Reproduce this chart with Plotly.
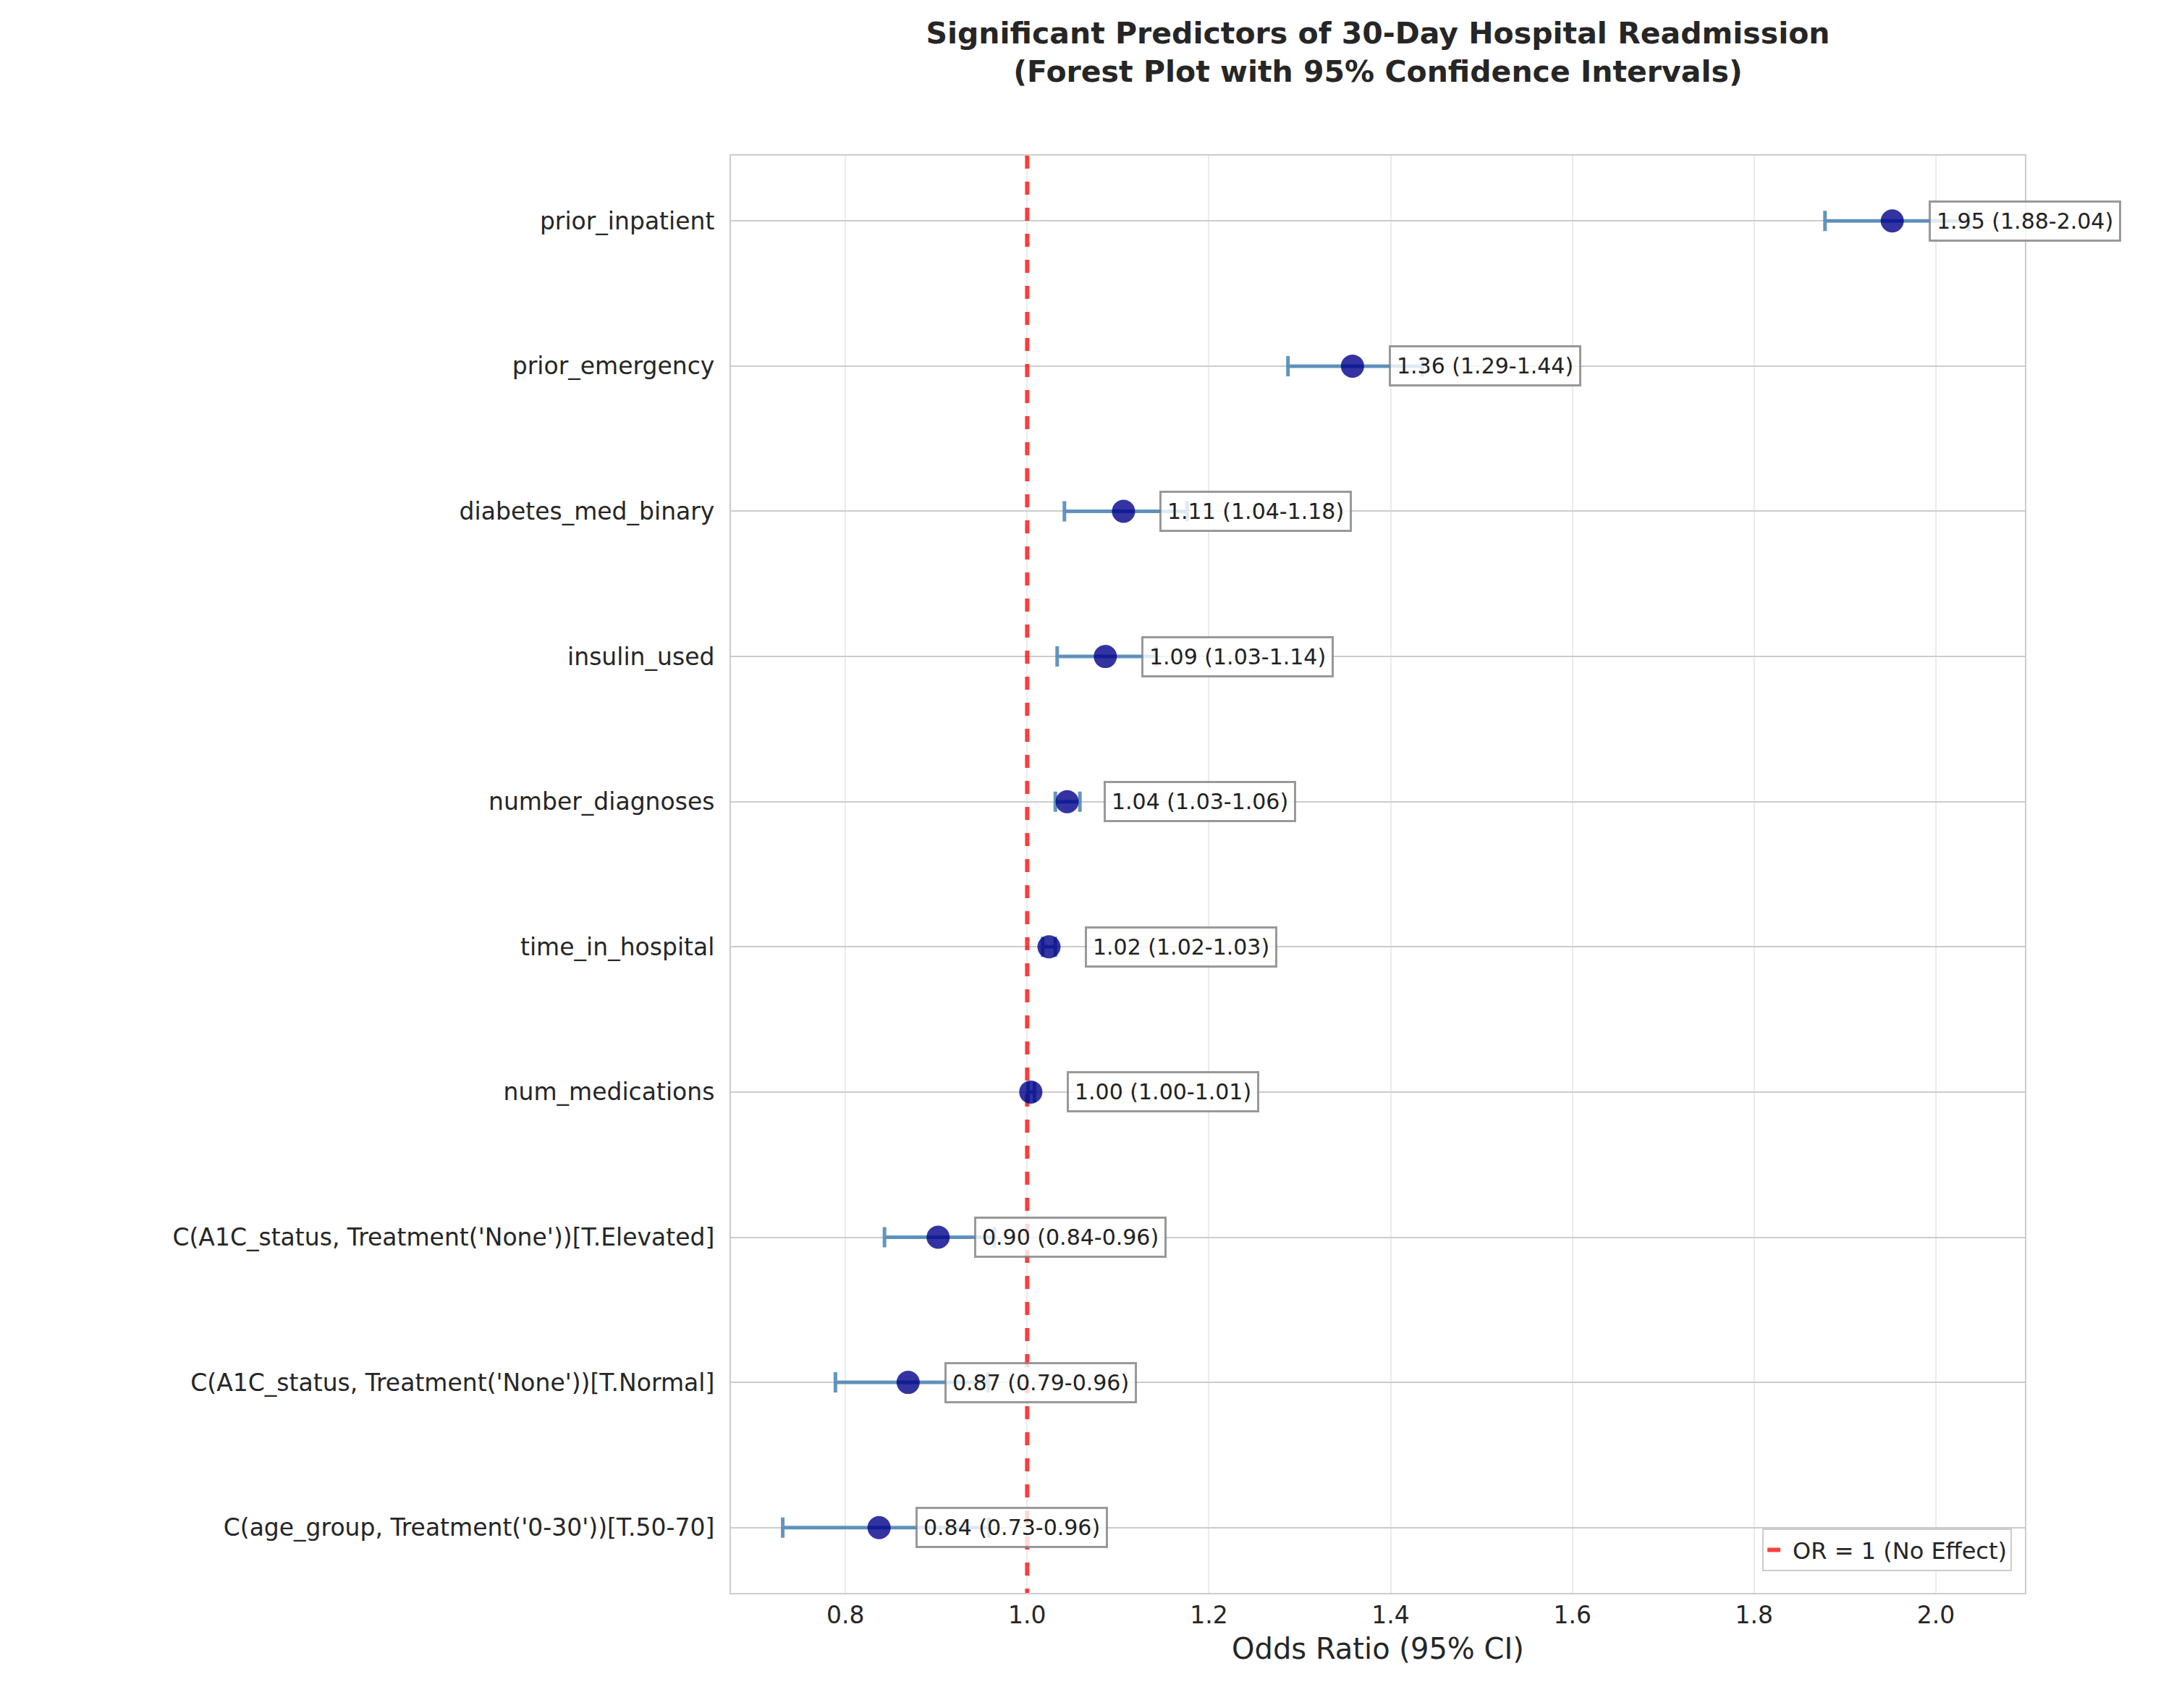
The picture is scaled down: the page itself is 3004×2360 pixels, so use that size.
import plotly.graph_objects as go

predictors = [
    "prior_inpatient",
    "prior_emergency",
    "diabetes_med_binary",
    "insulin_used",
    "number_diagnoses",
    "time_in_hospital",
    "num_medications",
    "C(A1C_status, Treatment('None'))[T.Elevated]",
    "C(A1C_status, Treatment('None'))[T.Normal]",
    "C(age_group, Treatment('0-30'))[T.50-70]",
]
odds_ratio = [1.952, 1.358, 1.106, 1.086, 1.044, 1.024, 1.004, 0.902, 0.869, 0.837]
ci_lower = [1.878, 1.287, 1.041, 1.033, 1.031, 1.017, 1.001, 0.843, 0.789, 0.731]
ci_upper = [2.036, 1.435, 1.176, 1.142, 1.058, 1.031, 1.008, 0.964, 0.957, 0.958]

pos = list(range(len(predictors)))
labels = [f"{o:.2f} ({l:.2f}-{u:.2f})" for o, l, u in zip(odds_ratio, ci_lower, ci_upper)]
font_family = "DejaVu Sans"

fig = go.Figure()

# vertical reference line (also feeds the legend)
fig.add_trace(
    go.Scatter(
        x=[1, 1],
        y=[-0.45, len(predictors) - 0.55],
        mode="lines",
        line=dict(color="rgba(255,0,0,0.75)", width=6, dash="dash"),
        name="OR = 1 (No Effect)",
        showlegend=True,
    )
)

fig.add_trace(
    go.Scatter(
        x=odds_ratio,
        y=pos,
        mode="markers",
        marker=dict(color="rgba(0,0,139,0.8)", size=32, line_width=0),
        error_x=dict(
            type="data",
            symmetric=False,
            array=[u - o for u, o in zip(ci_upper, odds_ratio)],
            arrayminus=[o - l for o, l in zip(odds_ratio, ci_lower)],
            color="rgba(70,130,180,0.85)",
            thickness=5,
            width=14,
        ),
        showlegend=False,
    )
)

for o, p, t in zip(odds_ratio, pos, labels):
    fig.add_annotation(
        x=o,
        y=p,
        text=t,
        xanchor="left",
        xshift=50,
        showarrow=False,
        font=dict(family=font_family, size=30, color="#222"),
        bgcolor="rgba(255,255,255,0.8)",
        bordercolor="rgba(128,128,128,0.8)",
        borderwidth=3,
        borderpad=8,
    )

fig.update_layout(
    width=3004,
    height=2360,
    paper_bgcolor="white",
    plot_bgcolor="white",
    font=dict(family=font_family, size=33, color="#262626"),
    margin=dict(l=1002, r=214, t=207, b=167),
    title=dict(
        text="<b>Significant Predictors of 30-Day Hospital Readmission<br>(Forest Plot with 95% Confidence Intervals)</b>",
        x=0.5,
        xref="paper",
        xanchor="center",
        y=0.978,
        yanchor="top",
        font=dict(size=41, color="#262626"),
    ),
    legend=dict(
        x=0.99,
        y=0.015,
        xanchor="right",
        yanchor="bottom",
        bgcolor="white",
        bordercolor="#cccccc",
        borderwidth=2,
        font=dict(size=32),
    ),
)

fig.update_xaxes(
    range=[0.674, 2.098],
    tickvals=[0.8, 1.0, 1.2, 1.4, 1.6, 1.8, 2.0],
    tickformat=".1f",
    showgrid=True,
    gridcolor="#ebebeb",
    gridwidth=2,
    zeroline=False,
    showline=True,
    linecolor="#cccccc",
    linewidth=2,
    mirror=True,
    ticks="",
    title=dict(text="Odds Ratio (95% CI)", font=dict(size=40), standoff=14),
)
fig.update_yaxes(
    range=[len(predictors) - 0.55, -0.45],
    tickvals=pos,
    ticktext=predictors,
    showgrid=True,
    gridcolor="#cccccc",
    gridwidth=2,
    zeroline=False,
    showline=True,
    linecolor="#cccccc",
    linewidth=2,
    mirror=True,
    ticks="",
    ticklabelstandoff=14,
)

fig.write_html("out.html")
